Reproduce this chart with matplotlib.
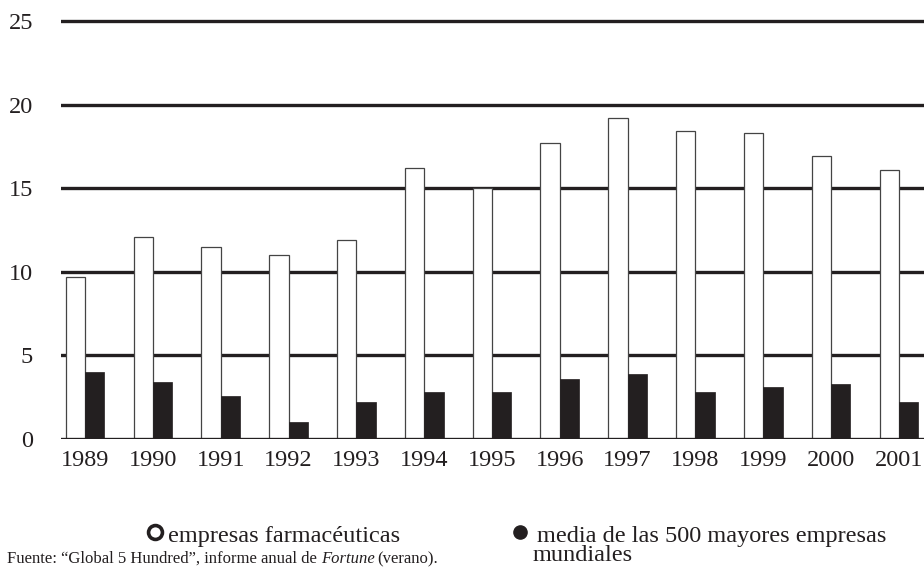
import matplotlib
matplotlib.use("Agg")
import matplotlib.pyplot as plt
from matplotlib.lines import Line2D
import numpy as np

# --- DATA ---
years = ['1989', '1990', '1991', '1992', '1993', '1994', '1995',
         '1996', '1997', '1998', '1999', '2000', '2001']
farma = [9.7, 12.1, 11.5, 11.0, 11.9, 16.2, 15.0, 17.7, 19.2, 18.4, 18.3, 16.9, 16.1]
media500 = [4.0, 3.4, 2.6, 1.0, 2.2, 2.8, 2.8, 3.6, 3.9, 2.8, 3.1, 3.3, 2.2]
yticks = [0, 5, 10, 15, 20, 25]

INK = '#231f20'
plt.rcParams['font.family'] = ['Liberation Serif', 'DejaVu Serif']

fig = plt.figure(figsize=(9.24, 5.67), dpi=100)
ax = fig.add_axes([61/924, 1 - 439/567, 1 - 61/924, (439 - 16)/567])

x = np.arange(len(years))
w = 0.285
ax.bar(x - w/2, farma, width=w, color='white', edgecolor='#444444',
       linewidth=0.9, zorder=3)
ax.bar(x + w/2, media500, width=w, color=INK, edgecolor=INK,
       linewidth=0.5, zorder=3)

# horizontal rules
for v in yticks:
    ax.axhline(v, color=INK, lw=2.4, zorder=2 if v else 4)

ax.set_xlim(-0.355, 12.37)
ax.set_ylim(0, 25.3)
ax.set_yticks(yticks)
ax.set_xticks(x)
ax.set_xticklabels(years)
ax.tick_params(axis='both', length=0, labelsize=17.5, colors=INK)
ax.tick_params(axis='x', pad=8)
ax.tick_params(axis='y', pad=20)
for s in ax.spines.values():
    s.set_visible(False)

# --- LEGEND ---
fig.add_artist(Line2D([155/924], [1 - 532/567], marker='o', ms=10,
                      mfc='white', mec=INK, mew=2.6, ls='none',
                      transform=fig.transFigure))
fig.text(168/924, 1 - 542/567, 'empresas farmacéuticas', fontsize=17.5,
         color=INK, va='baseline')
fig.add_artist(Line2D([520/924], [1 - 532/567], marker='o', ms=9.5,
                      mfc=INK, mec=INK, ls='none',
                      transform=fig.transFigure))
fig.text(537/924, 1 - 542/567, 'media de las 500 mayores empresas',
         fontsize=17.5, color=INK, va='baseline')
fig.text(533/924, 1 - 561/567, 'mundiales', fontsize=17.5,
         color=INK, va='baseline')

# --- SOURCE ---
fig.canvas.draw()
r = fig.canvas.get_renderer()
ypos = 1 - 563/567
t1 = fig.text(7/924, ypos, 'Fuente: “Global 5 Hundred”, informe anual de ',
              fontsize=12, color=INK, va='baseline')
bb = t1.get_window_extent(r)
t2 = fig.text(bb.x1/924, ypos, 'Fortune', fontsize=12, style='italic',
              color=INK, va='baseline')
bb = t2.get_window_extent(r)
fig.text(bb.x1/924 + 3/924, ypos, '(verano).', fontsize=12,
         color=INK, va='baseline')

fig.savefig('out.png', dpi=100)
